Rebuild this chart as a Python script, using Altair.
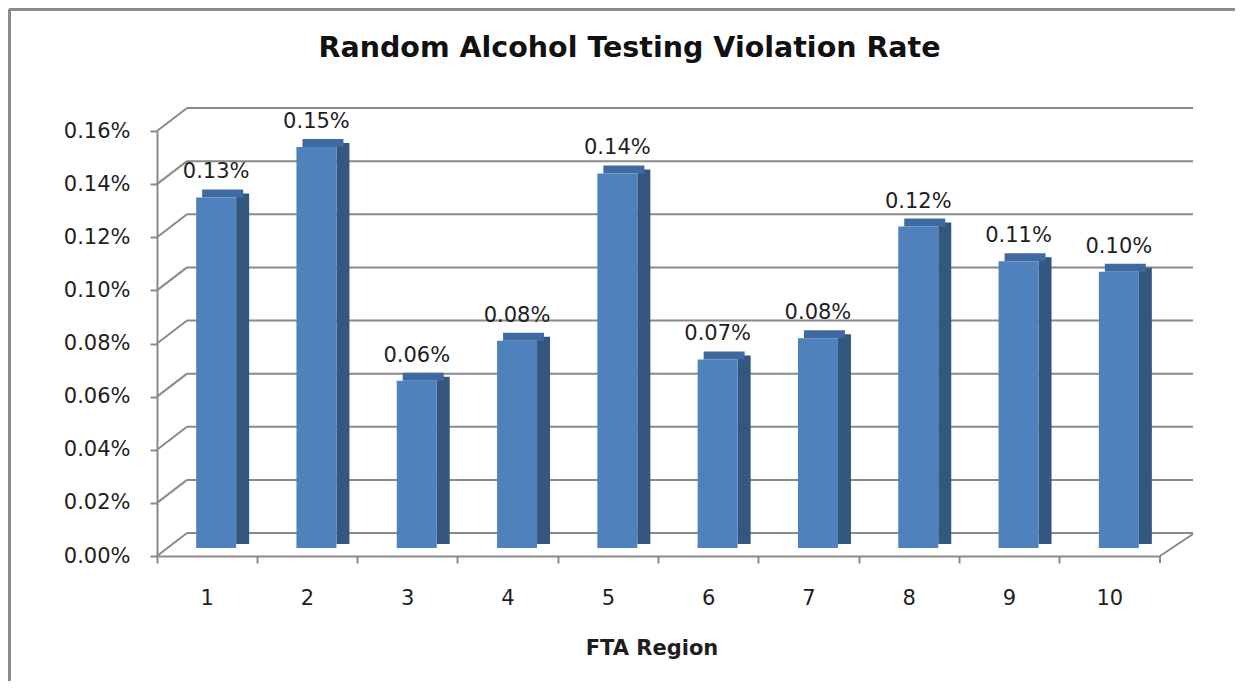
import altair as alt
import pandas as pd

regions = ["1", "2", "3", "4", "5", "6", "7", "8", "9", "10"]
rates = [0.00132, 0.00151, 0.00063, 0.00078, 0.00141, 0.00071, 0.00079, 0.00121, 0.00108, 0.00104]
tick_values = [0.0, 0.0002, 0.0004, 0.0006, 0.0008, 0.0010, 0.0012, 0.0014, 0.0016]
title_text = "Random Alcohol Testing Violation Rate"

W, H = 1003, 425
DEPTH_X, DEPTH_Y = 30, 23
FONT = "DejaVu Sans"
GRID = "#8a8a8a"
TXT = "#1e1e1e"

df = pd.DataFrame({"region": regions, "rate": rates})
grid_df = pd.DataFrame({"v": tick_values})

yscale = alt.Scale(domain=[0, 0.0016])
xscale = alt.Scale(domain=regions, paddingInner=0, paddingOuter=0)

one = alt.Data(values=[{}])

# outer frame (top & left)
frame_top = alt.Chart(one).mark_rule(color="#8c8c8c", strokeWidth=3).encode(
    x=alt.value(-148), x2=alt.value(W + 80), y=alt.value(-121.5), y2=alt.value(-121.5))
frame_left = alt.Chart(one).mark_rule(color="#8c8c8c", strokeWidth=3).encode(
    x=alt.value(-147.5), x2=alt.value(-147.5), y=alt.value(-122), y2=alt.value(H + 140))

# chart title
title = alt.Chart(one).mark_text(font=FONT, fontSize=28.5, fontWeight="bold", color="#111111",
                                 baseline="middle", align="center").encode(
    x=alt.value(W / 2 - 29), y=alt.value(-83), text=alt.value(title_text))

# back wall gridlines
back = alt.Chart(grid_df).mark_rule(color=GRID, strokeWidth=2, yOffset=-DEPTH_Y).encode(
    y=alt.Y("v:Q", scale=yscale), x=alt.value(DEPTH_X), x2=alt.value(W + 33))
# side wall diagonals
diag = alt.Chart(grid_df).mark_rule(color=GRID, strokeWidth=2, y2Offset=-DEPTH_Y).encode(
    y=alt.Y("v:Q", scale=yscale), y2="v:Q", x=alt.value(0), x2=alt.value(DEPTH_X))
floor_r = alt.Chart(one).mark_rule(color=GRID, strokeWidth=2).encode(
    x=alt.value(W), x2=alt.value(W + 33), y=alt.value(H), y2=alt.value(H - DEPTH_Y + 1))
last_tick = alt.Chart(one).mark_rule(color=GRID, strokeWidth=2).encode(
    x=alt.value(W), x2=alt.value(W), y=alt.value(H), y2=alt.value(H + 7))

base = alt.Chart(df)
xenc = alt.X("region:N", sort=regions, scale=xscale,
             axis=alt.Axis(title="FTA Region", bandPosition=0, labelAngle=0,
                           tickSize=7, tickColor=GRID, tickWidth=2, domainColor=GRID, domainWidth=2,
                           labelFont=FONT, labelFontSize=21, labelColor=TXT, labelPadding=24,
                           titleFont=FONT, titleFontSize=21, titleFontWeight="bold", titleColor=TXT,
                           titlePadding=29, titleX=W / 2 - 7))
yenc = alt.Y("rate:Q", scale=yscale,
             axis=alt.Axis(title=None, values=tick_values, format=".2%", grid=False,
                           tickSize=7, tickColor=GRID, tickWidth=2, domainColor=GRID, domainWidth=2,
                           labelFont=FONT, labelFontSize=21, labelColor=TXT, labelPadding=20))

side = base.mark_bar(size=13, xOffset=35.5, yOffset=-12, y2Offset=-12, color="#34577f").encode(
    x=xenc, y=yenc)
top = base.mark_bar(size=41, xOffset=15.5, yOffset=-16, y2Offset=-8, color="#3f6aa1").encode(
    x=xenc, y=yenc, y2="rate:Q")
front = base.mark_bar(size=40, xOffset=9, yOffset=-8, y2Offset=-8, color="#4f81bd").encode(
    x=xenc, y=yenc)
labels = base.mark_text(dx=9, dy=-27, baseline="alphabetic", font=FONT, fontSize=21, color=TXT).encode(
    x=xenc, y=yenc, text=alt.Text("rate:Q", format=".2%"))

chart = alt.layer(frame_top, frame_left, title, back, diag, floor_r, side, top, front, labels,
                  last_tick).properties(
    width=W, height=H,
    autosize=alt.AutoSizeParams(type="none"),
    padding={"left": 149, "top": 123, "right": 75, "bottom": 125},
).configure_view(stroke=None)

chart.save("out.html", embed_options={"renderer": "svg", "actions": False})
